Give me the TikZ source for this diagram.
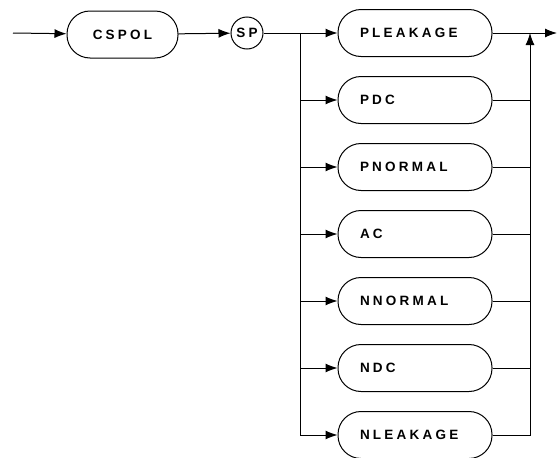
\documentclass[tikz,border=0pt]{standalone}
\usepackage{fontspec}
\setsansfont{Liberation Sans}[LetterSpace=24]
\usetikzlibrary{arrows.meta}

\begin{document}
\begin{tikzpicture}[
    x=1pt, y=-1pt,
    line width=1pt,
    >={Latex[length=12pt,width=9pt]},
    word/.style={draw, rounded corners=23pt, minimum height=47pt,
      font=\sffamily\bfseries\fontsize{13.5}{15}\selectfont},
    choice/.style={word, minimum width=154pt, text width=110pt, align=left}
  ]
  \useasboundingbox (0,0) rectangle (558,458);
  \coordinate (start) at (13,33);
  \node[word, minimum width=111pt] (cspol) at (122.5,34.5) {CSPOL};
  \node[circle, draw, minimum size=32pt, inner sep=0pt,
    font=\sffamily\bfseries\fontsize{13.5}{15}\selectfont] (sp) at (247,33) {SP};
  \coordinate (split) at (300,33);
  \coordinate (join) at (530,33);
  \coordinate (exit) at (557,33);
  \foreach \name/\txt [count=\i from 0] in {pleak/PLEAKAGE, pdc/PDC,
      pnorm/PNORMAL, ac/AC, nnorm/NNORMAL, ndc/NDC, nleak/NLEAKAGE}
    \node[choice] (\name) at (415,{33+67*\i}) {\txt};
  \draw[->] (start) -- (cspol);
  \draw[->] (cspol) -- (sp);
  \draw (sp) -- (split);
  \draw[->] (split) -- (pleak);
  \draw[->] (split) |- (nleak);
  \foreach \name in {pdc, pnorm, ac, nnorm, ndc}
    \draw[->] (split |- \name) -- (\name);
  \foreach \name in {pdc, pnorm, ac, nnorm, ndc}
    \draw (\name) -- (join |- \name);
  \draw[->] (nleak) -| (join);
  \draw[->] (pleak) -- (exit);
\end{tikzpicture}
\end{document}
